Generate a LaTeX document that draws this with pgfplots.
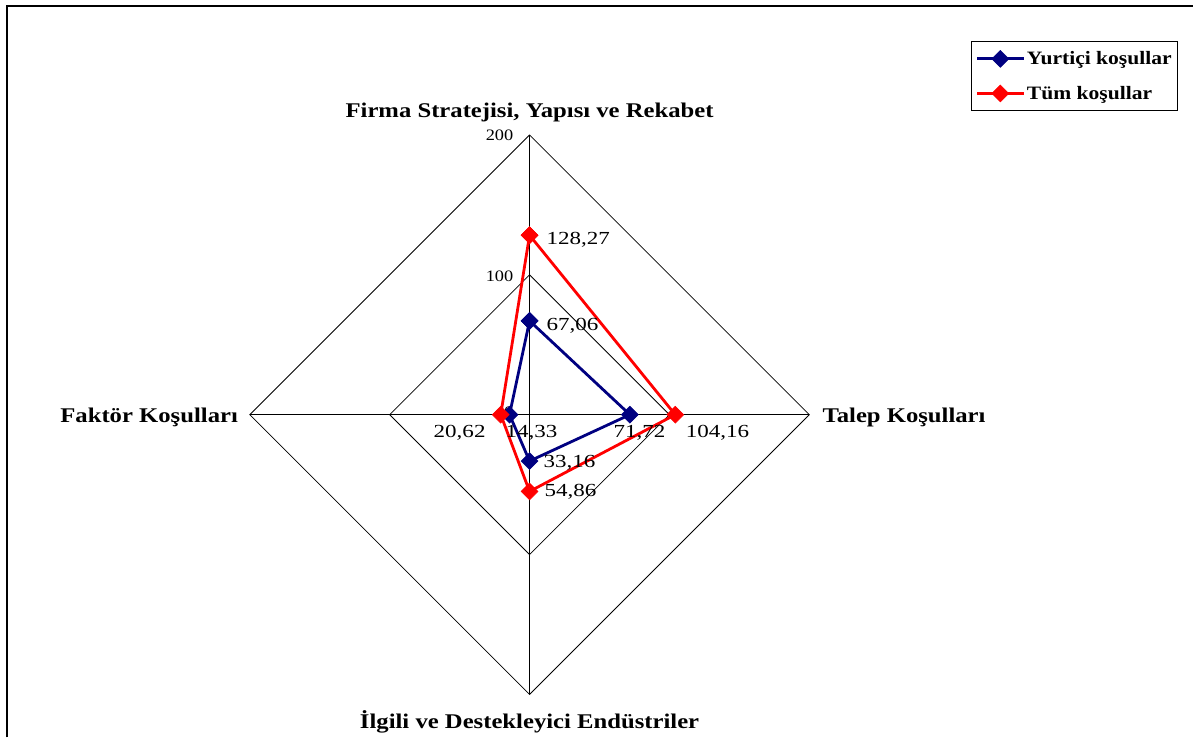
\documentclass[border=0pt]{standalone}
\usepackage{fontspec}
\setmainfont{Liberation Serif}
\newfontfamily\catfont[FakeStretch=1.18]{Liberation Serif}
\newfontfamily\lblfont[FakeStretch=1.25]{Liberation Serif}
\newfontfamily\tickfont[FakeStretch=1.15]{Liberation Serif}
\newfontfamily\legfont[FakeStretch=1.14]{Liberation Serif}
\usepackage{pgfplots}
\pgfplotsset{compat=1.18}
\definecolor{navy}{RGB}{0,0,128}
\definecolor{ered}{RGB}{255,0,0}
\begin{document}
\begin{tikzpicture}
\begin{axis}[
  scale only axis, width=1194bp, height=738bp,
  xmin=-378.571, xmax=474.286, ymin=-230.714, ymax=296.429,
  hide axis, clip=false,
  legend style={at={(rel axis cs:0.814,0.9444)}, anchor=north west, draw=black, line width=1.2bp,
    font=\legfont\bfseries\fontsize{19}{22}\selectfont, inner xsep=4bp, inner ysep=8bp, row sep=16bp, cells={anchor=west}},
  legend image code/.code={\draw[#1, mark repeat=2, mark phase=2] plot coordinates {(0cm,0cm)(0.82cm,0cm)(1.64cm,0cm)};},
]
% invisible bounding path
\path (rel axis cs:0,0) rectangle (rel axis cs:1,1);
% frame (top and left)
\draw[line width=2bp] (rel axis cs:0.00586,0) -- (rel axis cs:0.00586,0.99187) -- (rel axis cs:1,0.99187);
% grid
\addplot[black, line width=0.8bp, forget plot] coordinates {(0,200) (200,0) (0,-200) (-200,0) (0,200)};
\addplot[black, line width=0.8bp, forget plot] coordinates {(0,100) (100,0) (0,-100) (-100,0) (0,100)};
\addplot[black, line width=0.8bp, forget plot] coordinates {(0,200) (0,-200)};
\addplot[black, line width=0.8bp, forget plot] coordinates {(-200,0) (200,0)};
% data: Firma (top), Talep (right), Ilgili (bottom), Faktor (left)
\addplot[navy, line width=2.8bp, mark=square*, mark size=6bp, mark options={rotate=45, solid, fill=navy, draw=navy, line width=0.5bp}]
  coordinates {(0,67.06) (71.72,0) (0,-33.16) (-14.33,0) (0,67.06)};
\addlegendentry{Yurtiçi koşullar}
\addplot[ered, line width=2.8bp, mark=square*, mark size=6bp, mark options={rotate=45, solid, fill=ered, draw=ered, line width=0.5bp}]
  coordinates {(0,128.27) (104.16,0) (0,-54.86) (-20.62,0) (0,128.27)};
\addlegendentry{Tüm koşullar}
% category labels
\node[font=\catfont\bfseries\fontsize{21}{25}\selectfont] at (axis cs:0,216) {Firma Stratejisi, Yapısı ve Rekabet};
\node[font=\catfont\bfseries\fontsize{21}{25}\selectfont, anchor=west] at (axis cs:207,-2) {Talep Koşulları};
\node[font=\catfont\bfseries\fontsize{21}{25}\selectfont, anchor=east] at (axis cs:-206,-2) {Faktör Koşulları};
\node[font=\catfont\bfseries\fontsize{21}{25}\selectfont] at (axis cs:0,-219.3) {İlgili ve Destekleyici Endüstriler};
% tick labels
\node[font=\tickfont\fontsize{16}{19}\selectfont, anchor=east, inner sep=0pt] at (axis cs:-11.5,200) {200};
\node[font=\tickfont\fontsize{16}{19}\selectfont, anchor=east, inner sep=0pt] at (axis cs:-11.5,98.6) {100};
\node[font=\tickfont\fontsize{16}{19}\selectfont, inner sep=0pt] at (axis cs:-15,1.4) {0};
% data labels
\node[font=\lblfont\fontsize{18.5}{22}\selectfont, anchor=west, inner sep=0pt] at (axis cs:12.1,125) {128,27};
\node[font=\lblfont\fontsize{18.5}{22}\selectfont, anchor=west, inner sep=0pt] at (axis cs:12.1,63.6) {67,06};
\node[font=\lblfont\fontsize{18.5}{22}\selectfont, inner sep=0pt] at (axis cs:78.6,-12.9) {71,72};
\node[font=\lblfont\fontsize{18.5}{22}\selectfont, inner sep=0pt] at (axis cs:134.3,-12.9) {104,16};
\node[font=\lblfont\fontsize{18.5}{22}\selectfont, inner sep=0pt] at (axis cs:-50,-12.9) {20,62};
\node[font=\lblfont\fontsize{18.5}{22}\selectfont, inner sep=0pt] at (axis cs:1.4,-12.9) {14,33};
\node[font=\lblfont\fontsize{18.5}{22}\selectfont, inner sep=0pt] at (axis cs:28.6,-34.3) {33,16};
\node[font=\lblfont\fontsize{18.5}{22}\selectfont, inner sep=0pt] at (axis cs:29.3,-55) {54,86};
\end{axis}
\end{tikzpicture}
\end{document}
